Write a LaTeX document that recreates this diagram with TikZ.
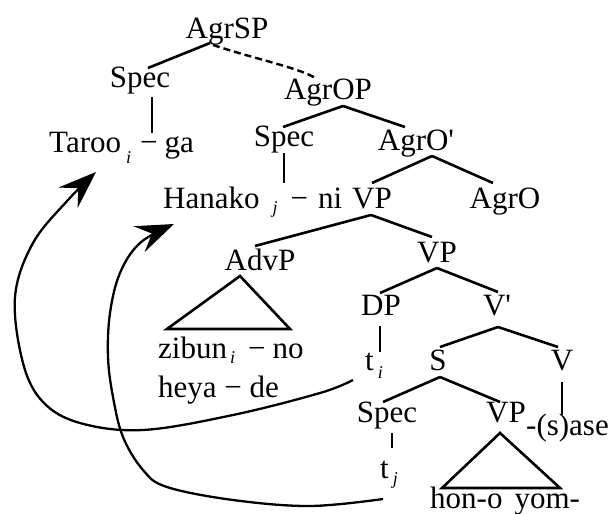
\documentclass[tikz,border=0pt]{standalone}
\usepackage{fontspec}
\newfontfamily\treefont{Liberation Serif}
\usetikzlibrary{arrows.meta}
\newcommand{\lsub}[2]{\raisebox{-#1pt}{\fontsize{18}{18}\selectfont\itshape #2}}
\begin{document}
\begin{tikzpicture}[x=1pt,y=-1pt,
  lab/.style={inner sep=0pt, anchor=base, font=\treefont\fontsize{31}{36}\selectfont},
  labw/.style={lab, anchor=base west},
  edge/.style={line width=2.6pt},
  dedge/.style={line width=2.4pt, dash pattern=on 7pt off 4pt},
  curve/.style={line width=2.3pt, -{Stealth[length=38pt,width=28pt,inset=14pt]}}]
\useasboundingbox (0,0) rectangle (611,514);
% labels
\node[lab] (agrsp) at (227,38) {AgrSP};
\node[lab] (spec1) at (140,87) {Spec};
\node[labw] (taroo) at (49,152) {Taroo\kern5pt\lsub{11}{i}\kern9pt−\kern7pt ga};
\node[lab] (agrop) at (328,99) {AgrOP};
\node[lab] (spec2) at (284,146) {Spec};
\node[lab] (agrobar) at (416,150) {AgrO'};
\node[labw] (hanako) at (163,208) {Hanako\kern13pt\lsub{5}{j}\kern13pt−\kern10pt ni};
\node[lab] (vp1) at (372,208) {VP};
\node[lab] (agro) at (505,208) {AgrO};
\node[lab] (advp) at (260,270) {AdvP};
\node[lab] (vp2) at (437,262) {VP};
\node[labw] (zibun) at (158,358) {zibun\kern3pt\lsub{5}{i}\kern13pt−\kern7pt no};
\node[labw] (heya) at (158,397) {heya − de};
\node[lab] (dp) at (381,315) {DP};
\node[lab] (vbar) at (497,315) {V'};
\node[labw] (ti) at (365,370) {t\kern4pt\lsub{8}{i}};
\node[lab] (s) at (438,370) {S};
\node[lab] (v) at (562,370) {V};
\node[lab] (spec3) at (387,422) {Spec};
\node[lab] (vp3) at (506,422) {VP};
\node[labw] (ase) at (526,435) {-(s)ase};
\node[labw] (tj) at (380,478) {t\kern4pt\lsub{6}{j}};
\node[labw] (hon) at (430,508) {hon-o\kern12pt yom-};
% connector end points
\coordinate (agrsp-b) at (210,43);
\coordinate (agrsp-d) at (213,45);
\coordinate (spec1-t) at (148,68);
\coordinate (spec1-b) at (152,97);
\coordinate (taroo-t) at (152,133);
\coordinate (agrop-t) at (317,79);
\coordinate (agrop-b) at (343,106);
\coordinate (spec2-t) at (283,127);
\coordinate (agrobar-t) at (405,127);
\coordinate (spec2-b) at (284,153);
\coordinate (hanako-t) at (284,183);
\coordinate (agrobar-b) at (432,156);
\coordinate (vp1-t) at (372,183);
\coordinate (agro-t) at (493,183);
\coordinate (vp1-b) at (371,215);
\coordinate (advp-t) at (255,246);
\coordinate (vp2-t) at (432,237);
\coordinate (advp-b) at (240,276);
\coordinate (advp-l) at (167,329);
\coordinate (advp-r) at (290,329);
\coordinate (vp2-b) at (437,268);
\coordinate (dp-t) at (380,293);
\coordinate (vbar-t) at (498,292);
\coordinate (dp-b) at (380,326);
\coordinate (ti-t) at (380,352);
\coordinate (vbar-b) at (498,327);
\coordinate (s-t) at (440,347);
\coordinate (v-t) at (558,347);
\coordinate (s-b) at (440,377);
\coordinate (spec3-t) at (383,402);
\coordinate (vp3-t) at (500,402);
\coordinate (v-b) at (562,382);
\coordinate (ase-t) at (562,415);
\coordinate (spec3-b) at (392,433);
\coordinate (tj-t) at (392,448);
\coordinate (vp3-b) at (500,433);
\coordinate (vp3-l) at (442,488);
\coordinate (vp3-r) at (560,488);
\coordinate (ti-s) at (353,380);
\coordinate (tj-s) at (383,499);
% tree edges
\draw[edge] (agrsp-b) -- (spec1-t);
\draw[dedge] (agrsp-d) .. controls (262,61) and (300,68) .. (agrop-t);
\draw[edge] (spec1-b) -- (taroo-t);
\draw[edge] (agrop-b) -- (spec2-t);
\draw[edge] (agrop-b) -- (agrobar-t);
\draw[edge] (spec2-b) -- (hanako-t);
\draw[edge] (agrobar-b) -- (vp1-t);
\draw[edge] (agrobar-b) -- (agro-t);
\draw[edge] (vp1-b) -- (advp-t);
\draw[edge] (vp1-b) -- (vp2-t);
\draw[edge] (advp-b) -- (advp-l) -- (advp-r) -- cycle;
\draw[edge] (vp2-b) -- (dp-t);
\draw[edge] (vp2-b) -- (vbar-t);
\draw[edge] (dp-b) -- (ti-t);
\draw[edge] (vbar-b) -- (s-t);
\draw[edge] (vbar-b) -- (v-t);
\draw[edge] (s-b) -- (spec3-t);
\draw[edge] (s-b) -- (vp3-t);
\draw[edge] (v-b) -- (ase-t);
\draw[edge] (spec3-b) -- (tj-t);
\draw[edge] (vp3-b) -- (vp3-l) -- (vp3-r) -- cycle;
% movement arrows
\draw[curve] plot[smooth, tension=0.6] coordinates {(ti-s) (320,393) (233,415) (143,430) (80,423) (43,402) (23,363) (15,297) (33,243) (68,200) (96,172)};
\draw[curve] plot[smooth, tension=0.6] coordinates {(tj-s) (310,506) (233,500) (167,487) (143,470) (123,437) (113,397) (108,357) (110,313) (120,273) (140,243) (174,224)};
\end{tikzpicture}
\end{document}
